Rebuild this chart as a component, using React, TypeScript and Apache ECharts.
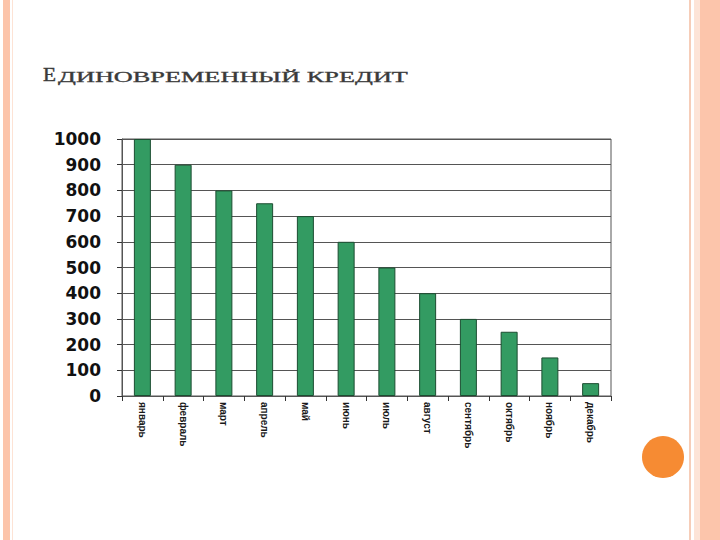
import React, { useEffect, useRef } from "react";
import * as echarts from "echarts";

const months = [
  "январь",
  "февраль",
  "март",
  "апрель",
  "май",
  "июнь",
  "июль",
  "август",
  "сентябрь",
  "октябрь",
  "ноябрь",
  "декабрь",
];
const credit = [1000, 900, 800, 750, 700, 600, 500, 400, 300, 250, 150, 50];

const titleFirst = "Е";
const titleRest = "ДИНОВРЕМЕННЫЙ КРЕДИТ";

// measure text so the stretched title can be fitted to the slide width
const measure = (text: string, font: string) => {
  const ctx = document.createElement("canvas").getContext("2d");
  if (!ctx) return text.length * 9;
  ctx.font = font;
  return ctx.measureText(text).width;
};

const App = () => {
  const chartRef = useRef<HTMLDivElement>(null);

  useEffect(() => {
    document.body.style.margin = "0";
    if (!chartRef.current) return;
    const chart = echarts.init(chartRef.current, null, { renderer: "svg" });

    const restWidth = measure(titleRest, '14px "Liberation Serif"');
    const restScale = 350 / restWidth;
    const firstWidth = measure(titleFirst, '18px "Liberation Serif"');
    const firstScale = 13 / firstWidth;

    chart.setOption({
      animation: false,
      backgroundColor: "#ffffff",
      grid: {
        left: 122,
        right: 109,
        top: 139,
        bottom: 144,
        show: true,
        borderColor: "#555",
        borderWidth: 1,
      },
      xAxis: {
        type: "category",
        data: months,
        axisLine: { lineStyle: { color: "#555", width: 1 } },
        axisTick: { show: true, length: 5, lineStyle: { color: "#333" } },
        axisLabel: {
          rotate: -90,
          interval: 0,
          margin: 6,
          fontSize: 10,
          fontWeight: "bold",
          fontFamily: "Liberation Sans",
          color: "#1a1a1a",
        },
      },
      yAxis: {
        type: "value",
        min: 0,
        max: 1000,
        interval: 100,
        axisLine: { show: true, lineStyle: { color: "#555", width: 1 } },
        axisTick: { show: true, length: 5, lineStyle: { color: "#333" } },
        splitLine: { lineStyle: { color: "#555", width: 1 } },
        axisLabel: {
          margin: 21,
          fontSize: 17,
          fontWeight: "bold",
          fontFamily: "DejaVu Sans",
          color: "#111",
          formatter: (v: number) => String(v),
        },
      },
      series: [
        {
          type: "bar",
          data: credit,
          barWidth: 17,
          itemStyle: {
            color: "#339b62",
            borderColor: "#1c4d31",
            borderWidth: 1,
          },
        },
      ],
      graphic: [
        // slide frame on the left
        { type: "rect", shape: { x: 3, y: 0, width: 7, height: 540 }, style: { fill: "#fcc4aa" }, silent: true },
        { type: "rect", shape: { x: 12, y: 0, width: 1, height: 540 }, style: { fill: "#fde3d5" }, silent: true },
        // slide frame on the right
        { type: "rect", shape: { x: 689, y: 0, width: 2, height: 540 }, style: { fill: "#f6cdb8" }, silent: true },
        { type: "rect", shape: { x: 694, y: 0, width: 6, height: 540 }, style: { fill: "#fde4d7" }, silent: true },
        { type: "rect", shape: { x: 700, y: 0, width: 20, height: 540 }, style: { fill: "#fcc5ab" }, silent: true },
        { type: "circle", shape: { cx: 663, cy: 457, r: 21 }, style: { fill: "#f68b33" }, silent: true },
        // title
        {
          type: "text",
          x: 43,
          y: 84,
          scaleX: firstScale,
          style: {
            text: titleFirst,
            font: '18px "Liberation Serif"',
            fill: "#3a3a3a",
            stroke: "#3a3a3a",
            lineWidth: 0.4,
            textVerticalAlign: "bottom",
          },
        },
        {
          type: "text",
          x: 58,
          y: 84,
          scaleX: restScale,
          style: {
            text: titleRest,
            font: '14px "Liberation Serif"',
            fill: "#3a3a3a",
            stroke: "#3a3a3a",
            lineWidth: 0.3,
            textVerticalAlign: "bottom",
          },
        },
      ],
    });

    return () => {
      chart.dispose();
    };
  }, []);

  return (
    <div
      ref={chartRef}
      style={{ position: "fixed", left: 0, top: 0, width: "720px", height: "540px" }}
    />
  );
};

export default App;
